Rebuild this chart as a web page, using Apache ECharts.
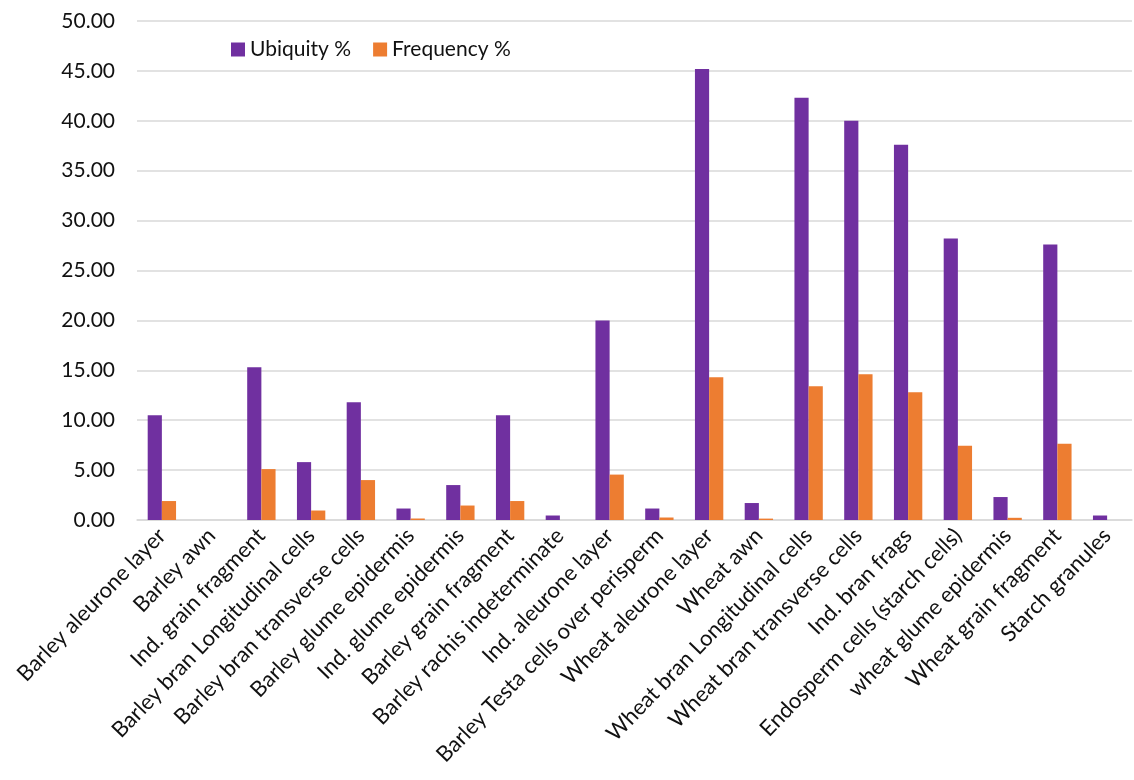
<!DOCTYPE html>
<html>
  <head>
    <meta charset="utf-8">
    <title>ECharts</title>
    <style type="text/css">
    html,body{margin:0;padding:0;background:#fff;}
    #main{width:1134px;height:780px;}
    </style>
    <script src="https://cdn.jsdelivr.net/npm/echarts@6/dist/echarts.min.js"></script>
  </head>
  <body>
    <div id="main"></div>
    <script type="text/javascript">
      var categories = ['Barley aleurone layer','Barley awn','Ind. grain fragment','Barley bran Longitudinal cells',
        'Barley bran transverse cells','Barley glume epidermis','Ind. glume epidermis','Barley grain fragment',
        'Barley rachis indeterminate','Ind. aleurone layer','Barley Testa cells over perisperm','Wheat aleurone layer',
        'Wheat awn','Wheat bran Longitudinal cells','Wheat bran transverse cells','Ind. bran frags',
        'Endosperm cells (starch cells)','wheat glume epidermis','Wheat grain fragment','Starch granules'];
      var ubiquity = [10.5, 0, 15.3, 5.8, 11.8, 1.15, 3.5, 10.5, 0.45, 20.0, 1.15, 45.2,
        1.7, 42.3, 40.0, 37.6, 28.2, 2.3, 27.6, 0.45];
      var frequency = [1.9, 0, 5.1, 0.95, 4.0, 0.15, 1.45, 1.9, 0, 4.55, 0.25, 14.3,
        0.14, 13.4, 14.6, 12.8, 7.45, 0.22, 7.65, 0];

      var chart = echarts.init(document.getElementById('main'));
      var option = {
        animation: false,
        textStyle: {fontFamily: 'Lato'},
        grid: {left: 137, right: 2, top: 21, bottom: 260, containLabel: false},
        legend: {
          left: 226, top: 34,
          itemWidth: 14, itemHeight: 14, itemGap: 22, itemTextGap: 6,
          icon: 'rect',
          textStyle: {fontSize: 21, color: '#111', fontFamily: 'Lato'},
          data: ['Ubiquity %', 'Frequency %']
        },
        xAxis: {
          type: 'category',
          data: categories,
          axisTick: {show: false},
          axisLine: {lineStyle: {color: '#d9d9d9', width: 1.5}},
          axisLabel: {rotate: 46, fontSize: 22, color: '#111', margin: 12, interval: 0, fontFamily: 'Lato'}
        },
        yAxis: {
          type: 'value',
          min: 0, max: 50, interval: 5,
          axisLine: {show: false},
          axisTick: {show: false},
          splitLine: {lineStyle: {color: '#d9d9d9', width: 1.5}},
          axisLabel: {fontSize: 21, color: '#111', margin: 22, fontFamily: 'Lato',
            formatter: function (v) { return v.toFixed(2); }}
        },
        series: [
          {name: 'Ubiquity %', type: 'bar', data: ubiquity, barGap: '0%', barCategoryGap: '43%',
           itemStyle: {color: '#7030A0'}},
          {name: 'Frequency %', type: 'bar', data: frequency,
           itemStyle: {color: '#ED7D31'}}
        ]
      };
      chart.setOption(option);
    </script>
  </body>
</html>
